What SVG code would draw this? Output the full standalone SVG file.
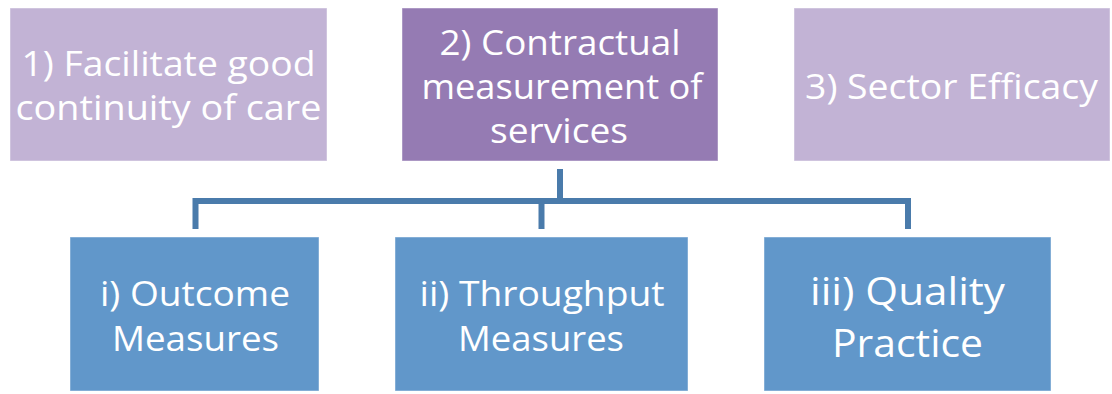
<svg xmlns="http://www.w3.org/2000/svg" width="1112" height="394" viewBox="0 0 1112 394">
<style>
.box{stroke:#ffffff;stroke-opacity:0.45;stroke-width:1}
.top-light{fill:#C2B3D5}
.top-dark{fill:#957BB3}
.bottom{fill:#6197CA}
.lbl{font-family:"Open Sans","Liberation Sans",sans-serif;font-size:35px;fill:#ffffff;text-anchor:middle}
.lbl-s{font-size:34px}
.lbl-l{font-size:38px}
.conn{fill:none;stroke:#4A7BAB;stroke-width:6;stroke-linecap:butt;stroke-linejoin:miter}
</style>
<rect width="1112" height="394" fill="#ffffff"/>
<g id="connectors">
<path class="conn" d="M560,169 V201"/>
<path class="conn" d="M195.5,229 V201 H908 V229"/>
<path class="conn" d="M541.5,201 V229"/>
</g>
<g id="node-1">
<rect class="box top-light" x="10" y="8" width="317" height="153"/>
<text class="lbl" x="168.5" y="76" textLength="294" lengthAdjust="spacingAndGlyphs">1) Facilitate good</text>
<text class="lbl" x="168.5" y="120" textLength="306" lengthAdjust="spacingAndGlyphs">continuity of care</text>
</g>
<g id="node-2">
<rect class="box top-dark" x="402" y="8" width="316" height="153"/>
<text class="lbl" x="560" y="55" textLength="241" lengthAdjust="spacingAndGlyphs">2) Contractual</text>
<text class="lbl" x="562" y="99" textLength="281" lengthAdjust="spacingAndGlyphs">measurement of</text>
<text class="lbl" x="559" y="143" textLength="138" lengthAdjust="spacingAndGlyphs">services</text>
</g>
<g id="node-3">
<rect class="box top-light" x="794" y="8" width="316" height="153"/>
<text class="lbl" x="951.5" y="99" textLength="293" lengthAdjust="spacingAndGlyphs">3) Sector Efficacy</text>
</g>
<g id="node-i">
<rect class="box bottom" x="70" y="237" width="249" height="154"/>
<text class="lbl lbl-s" x="195" y="306" textLength="190" lengthAdjust="spacingAndGlyphs">i) Outcome</text>
<text class="lbl lbl-s" x="195.5" y="350.5" textLength="167" lengthAdjust="spacingAndGlyphs">Measures</text>
</g>
<g id="node-ii">
<rect class="box bottom" x="395" y="237" width="293" height="154"/>
<text class="lbl lbl-s" x="542" y="306" textLength="245" lengthAdjust="spacingAndGlyphs">ii) Throughput</text>
<text class="lbl lbl-s" x="541" y="350.5" textLength="166" lengthAdjust="spacingAndGlyphs">Measures</text>
</g>
<g id="node-iii">
<rect class="box bottom" x="764" y="237" width="287" height="154"/>
<text class="lbl lbl-l" x="907.5" y="305" textLength="195" lengthAdjust="spacingAndGlyphs">iii) Quality</text>
<text class="lbl lbl-l" x="907.5" y="357" textLength="151" lengthAdjust="spacingAndGlyphs">Practice</text>
</g>
</svg>
